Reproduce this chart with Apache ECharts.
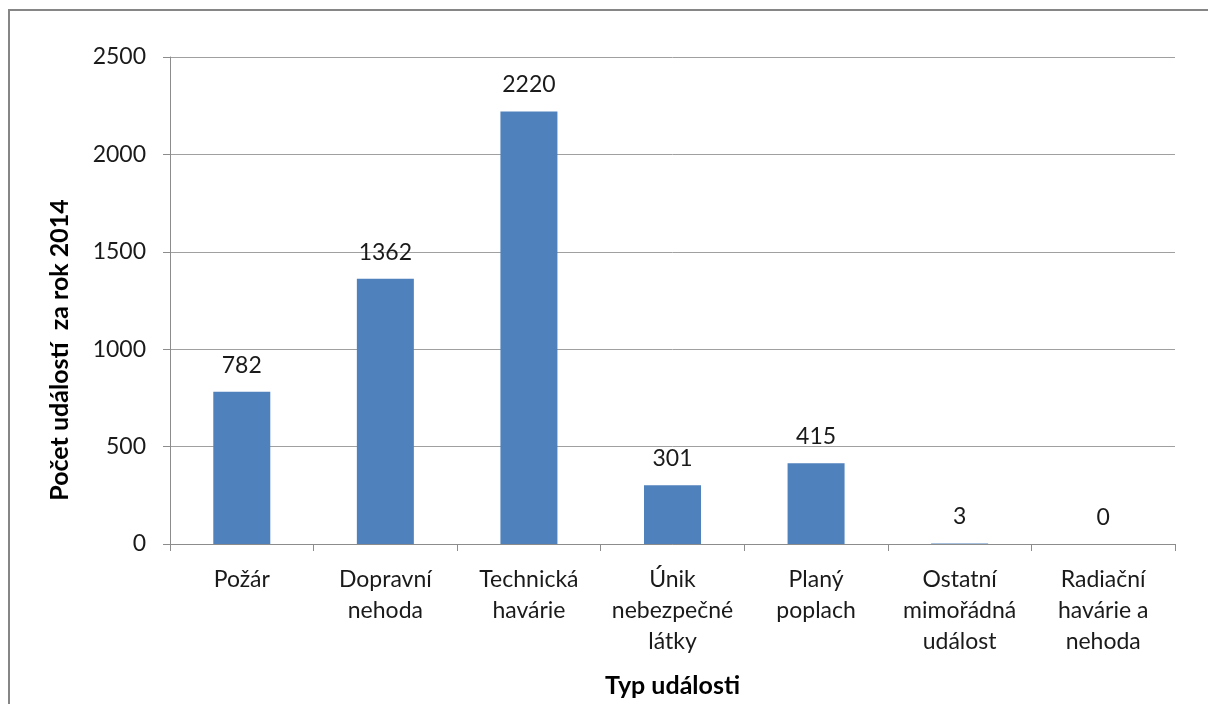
<!DOCTYPE html>
<html>
<head>
<meta charset="utf-8">
<script src="https://cdn.jsdelivr.net/npm/echarts@6/dist/echarts.min.js"></script>
<style>
html,body{margin:0;padding:0;background:#fff;}
#chart{width:1208px;height:704px;}
</style>
</head>
<body>
<div id="chart"></div>
<script>
const categories = [
  "Požár",
  "Dopravní\nnehoda",
  "Technická\nhavárie",
  "Únik\nnebezpečné\nlátky",
  "Planý\npoplach",
  "Ostatní\nmimořádná\nudálost",
  "Radiační\nhavárie a\nnehoda"
];
const values = [782, 1362, 2220, 301, 415, 3, 0];
const yTicks = [0, 500, 1000, 1500, 2000, 2500];
const xTitle = "Typ události";
const yTitle = "Počet událostí  za rok 2014";

const font = "Lato, 'Open Sans', sans-serif";
const chart = echarts.init(document.getElementById('chart'), null, {renderer: 'canvas'});
chart.setOption({
  animation: false,
  backgroundColor: '#ffffff',
  grid: {left: 170, right: 33, top: 57, bottom: 160, containLabel: false},
  xAxis: {
    type: 'category',
    data: categories,
    boundaryGap: true,
    name: xTitle,
    nameLocation: 'middle',
    nameGap: 129,
    nameTextStyle: {fontFamily: font, fontSize: 25, fontWeight: 'bold', color: '#000'},
    axisLine: {show: true, lineStyle: {color: '#8c8c8c', width: 1}},
    axisTick: {show: true, alignWithLabel: false, length: 7, lineStyle: {color: '#8c8c8c'}},
    axisLabel: {interval: 0, margin: 20, fontFamily: font, fontSize: 23, lineHeight: 31, color: '#1a1a1a', align: 'center'}
  },
  yAxis: {
    type: 'value',
    min: yTicks[0],
    max: yTicks[yTicks.length - 1],
    interval: yTicks[1] - yTicks[0],
    axisLine: {show: true, lineStyle: {color: '#8c8c8c', width: 1}},
    axisTick: {show: true, length: 7, lineStyle: {color: '#8c8c8c'}},
    axisLabel: {margin: 24, fontFamily: font, fontSize: 23, color: '#1a1a1a', formatter: function (v) { return String(v); }},
    splitLine: {show: true, lineStyle: {color: '#a0a0a0', width: 1}}
  },
  series: [{
    type: 'bar',
    data: values,
    barWidth: 57,
    itemStyle: {color: '#4f81bd'},
    label: {show: true, position: 'top', distance: 15, fontFamily: font, fontSize: 23, color: '#1a1a1a'}
  }],
  graphic: [
    {
      type: 'rect',
      silent: true,
      shape: {x: 9, y: 10, width: 1220, height: 720},
      style: {fill: 'none', stroke: '#868686', lineWidth: 2}
    },
    {
      type: 'text',
      x: 60,
      y: 350,
      rotation: Math.PI / 2,
      style: {
        text: yTitle,
        fontFamily: font,
        fontSize: 25,
        fontWeight: 'bold',
        fill: '#000',
        align: 'center',
        verticalAlign: 'middle'
      }
    }
  ]
});
</script>
</body>
</html>
